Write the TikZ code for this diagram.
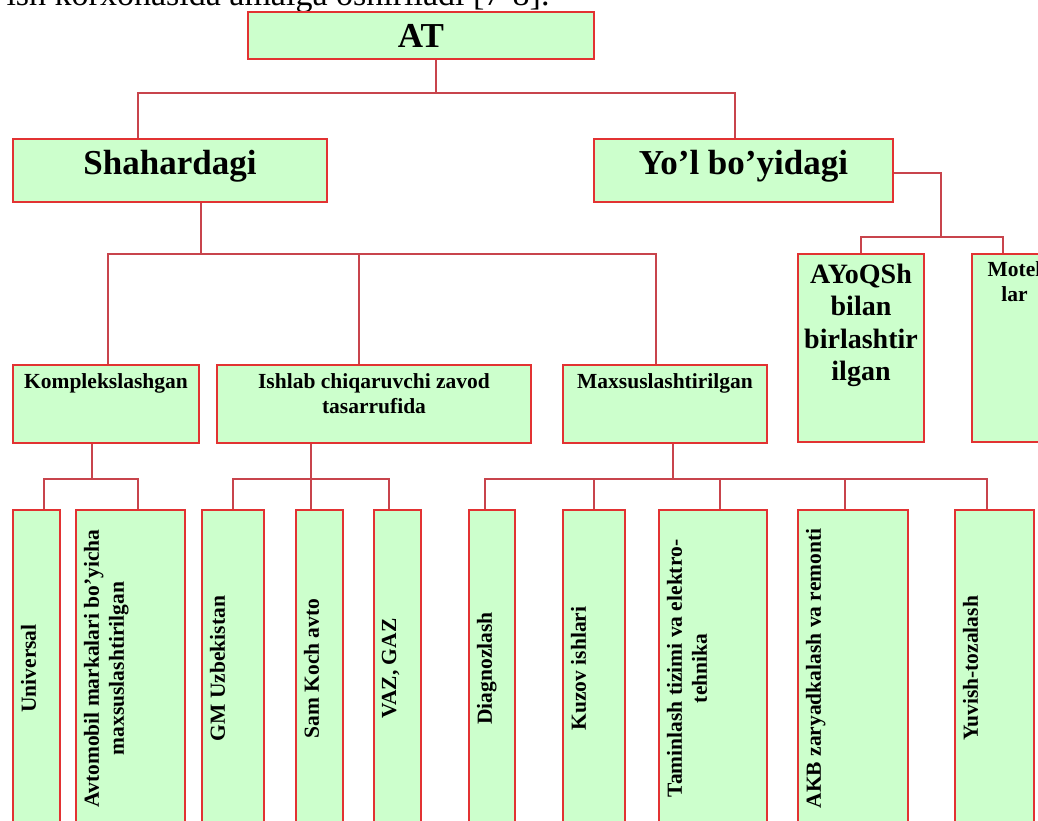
\documentclass[tikz,border=0pt]{standalone}
\usepackage{fontspec}
\setmainfont{Liberation Serif}
\usepackage{graphicx}
\definecolor{boxgreen}{RGB}{204,255,204}
\definecolor{boxred}{RGB}{226,50,50}
\definecolor{linkred}{RGB}{200,68,76}
\newcommand{\toptext}{\fontsize{35}{40}\selectfont\bfseries}
\newcommand{\sidetext}{\fontsize{28}{32.5}\selectfont\bfseries}
\newcommand{\midtext}{\fontsize{21.5}{25}\selectfont\bfseries}
\def\htext#1#2#3#4{\parbox[c][#2pt][t]{#1pt}{\vspace*{#3pt}\centering #4}}
\def\vtext#1#2#3{\rotatebox{90}{\parbox[c][#2pt][t]{#1pt}{\vspace*{8pt}\centering #3}}}
\tikzset{
	box/.style={draw=boxred, fill=boxgreen, line width=2pt, inner sep=0pt, anchor=north west},
	link/.style={draw=linkred, line width=1.7pt},
}

\begin{document}
\begin{tikzpicture}[x=1pt, y=-1pt]
		%%%%% START %%%%%
		\clip (0,0) rectangle (1038,821);
		
		\node[anchor=base east, font=\fontsize{34}{40}\selectfont] (intro) at (553,6) {ish korxonasida amalga oshiriladi [7-8].};
		
		% top levels
		\node[box, minimum width=346pt, minimum height=47pt, font=\toptext] (root) at (247,11) {AT};
		\node[box, minimum width=314pt, minimum height=63pt, text height=24pt, text depth=15pt, font=\toptext] (city) at (12,138) {Shahardagi};
		\node[box, minimum width=299pt, minimum height=63pt, text height=24pt, text depth=15pt, font=\toptext] (road) at (593,138) {Yo’l bo’yidagi};
		
		\node[box, font=\sidetext] (fuel) at (797,253) {\htext{126}{188}{10}{AYoQSh\\ bilan\\ birlashtir\\ ilgan}};
		\node[box, font=\midtext] (motel) at (971,253) {\htext{85}{188}{8}{Motel\\ lar}};
		
		\node[box, font=\midtext] (komp) at (12,364) {\htext{186}{78}{9}{Komplekslashgan}};
		\node[box, font=\midtext] (prod) at (216,364) {\htext{314}{78}{9}{Ishlab chiqaruvchi zavod\\ tasarrufida}};
		\node[box, font=\midtext] (spec) at (562,364) {\htext{204}{78}{9}{Maxsuslashtirilgan}};
		
		% bottom row
		\node[box, font=\midtext] (univ) at (12,509) {\vtext{317}{47}{Universal}};
		\node[box, font=\midtext] (brand) at (75,509) {\vtext{317}{109}{Avtomobil markalari bo’yicha\\ maxsuslashtirilgan}};
		\node[box, font=\midtext] (gm) at (201,509) {\vtext{317}{62}{GM Uzbekistan}};
		\node[box, font=\midtext] (sam) at (295,509) {\vtext{317}{47}{Sam Koch avto}};
		\node[box, font=\midtext] (vaz) at (373,509) {\vtext{317}{47}{VAZ, GAZ}};
		\node[box, font=\midtext] (diag) at (468,509) {\vtext{317}{46}{Diagnozlash}};
		\node[box, font=\midtext] (body) at (562,509) {\vtext{317}{62}{Kuzov ishlari}};
		\node[box, font=\midtext] (elec) at (658,509) {\vtext{317}{108}{Taminlash tizimi va elektro-\\ tehnika}};
		\node[box, font=\midtext] (akb) at (797,509) {\vtext{317}{110}{AKB zaryadkalash va remonti}};
		\node[box, font=\midtext] (wash) at (954,509) {\vtext{317}{79}{Yuvish-tozalash}};
		
		% links
		\draw[link] ([xshift=15pt]root.south) -- ++(0,33) coordinate (bus1);
		\draw[link] (bus1) -| ([xshift=-32pt]city.north);
		\draw[link] (bus1) -| ([xshift=-8.5pt]road.north);
		
		\draw[link] ([xshift=31pt]city.south) -- ++(0,51) coordinate (bus2);
		\draw[link] (bus2) -| ([xshift=2pt]komp.north);
		\draw[link] (bus2) -| ([xshift=-15pt]prod.north);
		\draw[link] (bus2) -| ([xshift=-9pt]spec.north);
		
		\draw[link] ([yshift=-2.5pt]road.east) -- ++(47,0) |- ++(0,64) coordinate (bus3);
		\draw[link] (bus3) -| (fuel.north);
		\draw[link] (bus3) -| ([xshift=-11.5pt]motel.north);
		
		\draw[link] ([xshift=-14pt]komp.south) -- ++(0,35) coordinate (bus4);
		\draw[link] (bus4) -| ([xshift=7.5pt]univ.north);
		\draw[link] (bus4) -| ([xshift=7.5pt]brand.north);
		
		\draw[link] ([xshift=-63pt]prod.south) -- ++(0,35) coordinate (bus5);
		\draw[link] (bus5) -| (gm.north);
		\draw[link] (bus5) -| ([xshift=-8.5pt]sam.north);
		\draw[link] (bus5) -| ([xshift=-8.5pt]vaz.north);
		
		\draw[link] ([xshift=8pt]spec.south) -- ++(0,35) coordinate (bus6);
		\draw[link] (bus6) -| ([xshift=-7pt]diag.north);
		\draw[link] (bus6) -| (body.north);
		\draw[link] (bus6) -| ([xshift=7pt]elec.north);
		\draw[link] (bus6) -| ([xshift=-8pt]akb.north);
		\draw[link] (bus6) -| ([xshift=-7.5pt]wash.north);
		
		%%%%% END %%%%%
\end{tikzpicture}
\end{document}
